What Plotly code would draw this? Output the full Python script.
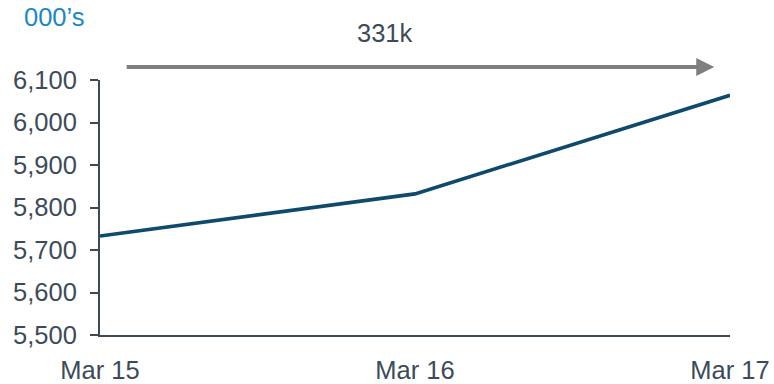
import plotly.graph_objects as go

# Members, in thousands, at each year end
periods = ["Mar 15", "Mar 16", "Mar 17"]
members = [5733, 5832, 6064]
y_ticks = [5500, 5600, 5700, 5800, 5900, 6000, 6100]
growth_label = "331k"
unit_label = "000\u2019s"

axis_col = "#3d4b59"
font = "Liberation Sans, Arial, sans-serif"
fsize = 25.5

fig = go.Figure()
fig.add_trace(go.Scatter(
    x=list(range(len(periods))), y=members, mode="lines",
    line=dict(color="#0d4a6c", width=3.6), hoverinfo="skip",
))

fig.update_layout(
    width=774, height=384,
    margin=dict(l=100, r=44, t=80, b=49),
    paper_bgcolor="white", plot_bgcolor="white",
    showlegend=False,
    font=dict(family=font, size=fsize, color=axis_col),
    xaxis=dict(
        range=[0, len(periods) - 1], tickmode="array",
        tickvals=list(range(len(periods))), ticktext=periods,
        showgrid=False, zeroline=False, showline=True,
        linecolor=axis_col, linewidth=2, ticks="", ticklen=0,
        ticklabelstandoff=11, automargin=False,
        tickfont=dict(size=fsize, color=axis_col),
    ),
    yaxis=dict(
        range=[y_ticks[0], y_ticks[-1]], tickmode="array",
        tickvals=y_ticks, ticktext=[f"{v:,}" for v in y_ticks],
        showgrid=False, zeroline=False, showline=True,
        linecolor=axis_col, linewidth=2, ticks="outside", ticklen=8,
        tickcolor=axis_col, tickwidth=2, ticklabelstandoff=8,
        automargin=False,
        tickfont=dict(size=fsize, color=axis_col),
    ),
)

# growth arrow across the top
fig.add_annotation(
    xref="x domain", yref="y domain", axref="x domain", ayref="y domain",
    x=0.975, y=1.051, ax=0.04, ay=1.051,
    text="", showarrow=True, arrowhead=2, arrowsize=0.9,
    arrowwidth=4, arrowcolor="#7f7f7f",
)
fig.add_annotation(
    xref="paper", yref="paper", x=(385 - 100) / 630, y=(335 - 33) / 255,
    text=growth_label, showarrow=False,
    font=dict(size=fsize, color="#3d4b59"), xanchor="center", yanchor="middle",
)
fig.add_annotation(
    xref="paper", yref="paper", x=(54.5 - 100) / 630, y=(335 - 17) / 255,
    text=unit_label, showarrow=False,
    font=dict(size=fsize, color="#1a88c4"), xanchor="center", yanchor="middle",
)

fig.write_html("out.html")
